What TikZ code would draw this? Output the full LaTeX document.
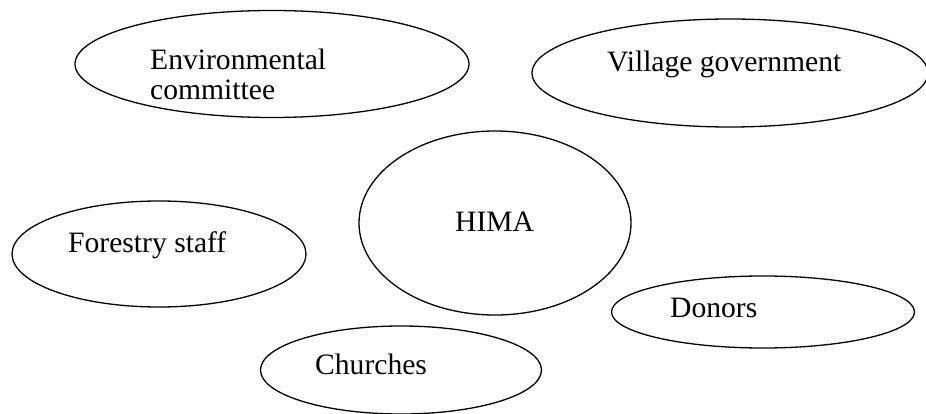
\documentclass[tikz,border=0pt]{standalone}
\usepackage{fontspec}
\setmainfont{Liberation Serif}
\usetikzlibrary{shapes.geometric}

\begin{document}
\begin{tikzpicture}[
			x=1pt, y=-1pt,
			font=\fontsize{29.6}{30}\selectfont,
			party/.style={draw, ellipse, line width=1.3pt, inner sep=0pt},
			txt/.style={anchor=base west, inner sep=0pt, align=left}
		]
		\useasboundingbox (0,0) rectangle (926,414);

		% ellipses of the groups
		\node[party, minimum width=394pt, minimum height=107pt] (env) at (272,64) {};
		\node[party, minimum width=396pt, minimum height=108pt] (vill) at (730,73) {};
		\node[party, minimum width=272pt, minimum height=184pt] (hima) at (495,223) {};
		\node[party, minimum width=294pt, minimum height=106pt] (forest) at (159,254) {};
		\node[party, minimum width=303pt, minimum height=72pt] (donors) at (763,312) {};
		\node[party, minimum width=281pt, minimum height=88pt] (church) at (401,370) {};

		% names (base of a two-line name is its last line)
		\node[txt] (envtxt) at (150,100) {Environmental\\ committee};
		\node[txt] (villtxt) at (607,72) {Village government};
		\node[txt] (himatxt) at (455,231) {HIMA};
		\node[txt] (foresttxt) at (68,252) {Forestry staff};
		\node[txt] (donorstxt) at (670,317) {Donors};
		\node[txt] (churchtxt) at (315,374) {Churches};
	\end{tikzpicture}
\end{document}
